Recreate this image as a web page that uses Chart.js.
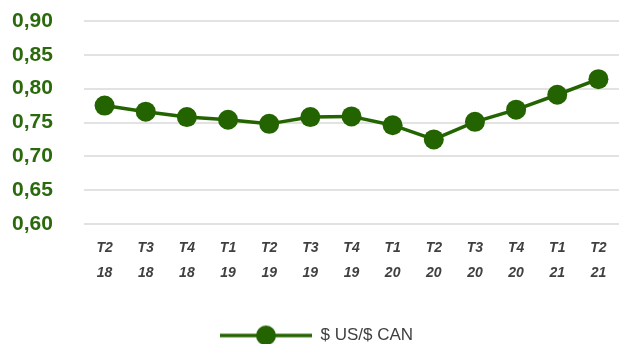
<!DOCTYPE html>
<html>
<head>
<meta charset="utf-8">
<script src="https://cdn.jsdelivr.net/npm/chart.js@4/dist/chart.umd.min.js"></script>
<style>
  html, body { margin: 0; padding: 0; background: #fff; overflow: hidden; }
  #wrap { width: 619px; height: 344px; position: relative; }
  canvas { display: block; }
</style>
</head>
<body>
<div id="wrap"><canvas id="myChart"></canvas></div>
<script>
// quarter labels (two lines each)
var quarters = [['T2','18'],['T3','18'],['T4','18'],['T1','19'],['T2','19'],['T3','19'],['T4','19'],
  ['T1','20'],['T2','20'],['T3','20'],['T4','20'],['T1','21'],['T2','21']];
// exchange rate US$ per CAN$
var rates = [0.775, 0.766, 0.758, 0.754, 0.748, 0.758, 0.759, 0.746, 0.725, 0.751, 0.769, 0.791, 0.814];
var seriesName = '$ US/$ CAN';
var yMin = 0.60, yMax = 0.90, yStep = 0.05;

var green = '#246400';
var labelGreen = '#2b6a0c';
var grey = '#404040';

// little line+dot picture for the legend
var marker = document.createElement('canvas');
marker.width = 92; marker.height = 24;
var mctx = marker.getContext('2d');
mctx.strokeStyle = green;
mctx.lineWidth = 3.5;
mctx.beginPath(); mctx.moveTo(0, 12); mctx.lineTo(92, 12); mctx.stroke();
mctx.fillStyle = green;
mctx.beginPath(); mctx.arc(46, 12, 10, 0, Math.PI * 2); mctx.fill();

var ctx = document.getElementById('myChart');
var myChart = new Chart(ctx, {
  type: 'line',
  data: {
    labels: quarters,
    datasets: [{
      label: seriesName,
      data: rates,
      borderColor: green,
      backgroundColor: green,
      borderWidth: 3.5,
      pointRadius: 10,
      pointHoverRadius: 10,
      pointBorderWidth: 0,
      pointBackgroundColor: green,
      pointStyle: 'circle',
      tension: 0
    }]
  },
  options: {
    responsive: true,
    maintainAspectRatio: false,
    animation: false,
    layout: { autoPadding: false, padding: { top: 21, left: 12, right: -2, bottom: -10 } },
    plugins: {
      tooltip: { enabled: false },
      legend: {
        position: 'bottom',
        labels: {
          usePointStyle: true,
          pointStyleWidth: 92,
          padding: 4,
          color: grey,
          font: { family: 'Liberation Sans, Arial, sans-serif', size: 17 },
          generateLabels: function(chart) {
            return chart.data.datasets.map(function(ds, i) {
              return {
                text: ds.label,
                pointStyle: marker,
                fontColor: grey,
                lineWidth: 0,
                strokeStyle: 'transparent',
                fillStyle: green,
                datasetIndex: i
              };
            });
          }
        }
      }
    },
    scales: {
      x: {
        offset: true,
        grid: { display: false },
        border: { display: false },
        ticks: {
          color: grey,
          maxRotation: 0,
          autoSkip: false,
          padding: 4,
          font: { family: 'Liberation Sans, Arial, sans-serif', size: 14, weight: 'bold', style: 'italic', lineHeight: 1.75 }
        },
        afterFit: function(scale) { scale.height = 99; }
      },
      y: {
        min: yMin,
        max: yMax,
        grid: { color: '#e2e2e2', lineWidth: 2, drawTicks: false },
        border: { display: false },
        ticks: {
          stepSize: yStep,
          color: labelGreen,
          crossAlign: 'far',
          padding: 0,
          font: { family: 'Liberation Sans, Arial, sans-serif', size: 21, weight: 'bold' },
          callback: function(v) { return v.toFixed(2).replace('.', ','); }
        },
        afterFit: function(scale) { scale.width = 72; }
      }
    }
  }
});
</script>
</body>
</html>
